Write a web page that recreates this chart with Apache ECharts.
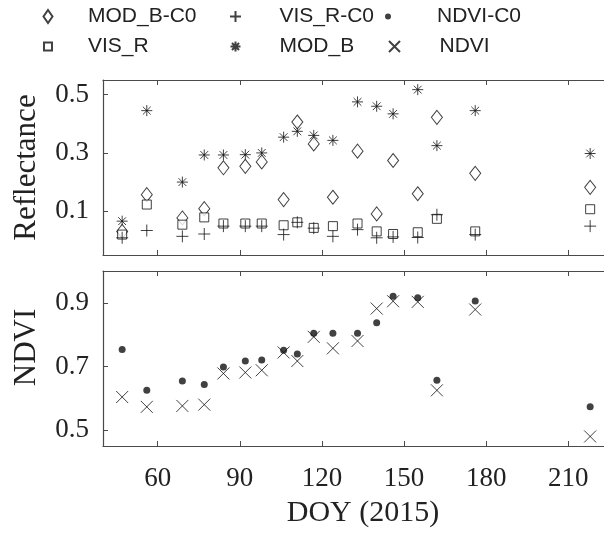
<!DOCTYPE html>
<html><head><meta charset="utf-8">
<script src="https://cdn.jsdelivr.net/npm/echarts@6/dist/echarts.min.js"></script>
<style>html,body{margin:0;padding:0;background:#fff;overflow:hidden;width:604px;height:533px}#c{width:640px;height:533px}</style>
</head><body><div id="c"></div>
<script>
const doy = [47, 56, 69, 77, 84, 92, 98, 106, 111, 117, 124, 133, 140, 146, 155, 162, 176, 218];
const modBC0 = [0.031, 0.157, 0.077, 0.109, 0.249, 0.254, 0.269, 0.140, 0.406, 0.331, 0.148, 0.306, 0.091, 0.274, 0.160, 0.422, 0.230, 0.182];
const visRC0 = [0.009, 0.034, 0.014, 0.022, 0.049, 0.049, 0.049, 0.020, 0.062, 0.042, 0.014, 0.037, 0.009, 0.012, 0.010, 0.088, 0.020, 0.049];
const visR = [0.020, 0.123, 0.054, 0.079, 0.058, 0.058, 0.058, 0.052, 0.062, 0.043, 0.049, 0.058, 0.031, 0.022, 0.028, 0.074, 0.031, 0.107];
const modB = [0.066, 0.445, 0.200, 0.293, 0.293, 0.294, 0.300, 0.354, 0.374, 0.360, 0.343, 0.475, 0.460, 0.434, 0.517, 0.325, 0.445, 0.298];
const ndviC0 = [0.753, 0.625, 0.654, 0.643, 0.698, 0.717, 0.720, 0.751, 0.739, 0.804, 0.804, 0.804, 0.837, 0.921, 0.916, 0.657, 0.906, 0.573];
const ndvi = [0.604, 0.573, 0.576, 0.580, 0.678, 0.681, 0.688, 0.744, 0.717, 0.793, 0.757, 0.780, 0.882, 0.905, 0.903, 0.625, 0.879, 0.480];
const xTicks = [60, 90, 120, 150, 180, 210];
const reflTicks = [0.1, 0.3, 0.5];
const ndviTicks = [0.5, 0.7, 0.9];

const pair = (ys) => doy.map((d, i) => [d, ys[i]]);
const INK = '#111';
const AXC = '#4a4a4a';
const SERIF = 'Liberation Serif';
const SANS = 'Liberation Sans';
const PLUS = 'path://M0,6H12M6,0V12';
const CROSS = 'path://M0,0L12,12M12,0L0,12';
const STAR = 'path://M0,6H12M6,0V12M1.76,1.76L10.24,10.24M10.24,1.76L1.76,10.24';
const hollow = {color: '#fff', borderColor: INK, borderWidth: 1};
const lineSym = {color: 'none', borderColor: INK, borderWidth: 1};

function xAx(grid, pos, labels) {
  return {
    type: 'value', gridIndex: grid, position: pos, min: 40, max: 230,
    axisLine: {show: true, onZero: false, lineStyle: {color: AXC, width: 1.2}},
    axisTick: {show: true, inside: true, length: 5, customValues: xTicks, lineStyle: {color: AXC}},
    axisLabel: labels ? {show: true, customValues: xTicks, margin: 19, fontFamily: SERIF, fontSize: 27, color: '#222'} : {show: false},
    splitLine: {show: false},
    name: labels ? 'DOY (2015)' : '', nameLocation: 'middle', nameGap: 52,
    nameTextStyle: {fontFamily: SERIF, fontSize: 30, color: '#222'}
  };
}
function yAx(grid, min, max, ticks, name, pad) {
  return {
    type: 'value', gridIndex: grid, min: min, max: max,
    axisLine: {show: true, onZero: false, lineStyle: {color: AXC, width: 1.2}},
    axisTick: {show: true, inside: true, length: 5, customValues: ticks, lineStyle: {color: AXC}},
    axisLabel: {show: true, customValues: ticks, margin: 14, fontFamily: SERIF, fontSize: 27, color: '#222',
      formatter: v => Number(v).toFixed(1)},
    splitLine: {show: false},
    name: name, nameLocation: 'middle', nameGap: 61,
    nameTextStyle: {fontFamily: SERIF, fontSize: 31, color: '#222', padding: pad}
  };
}
function leg(name, left, top, w, h, padL) {
  return {data: [name], left: left, top: top, itemWidth: w, itemHeight: h, padding: 0,
    selectedMode: false, symbolKeepAspect: true,
    textStyle: {fontFamily: SANS, fontSize: 21, color: '#222', padding: [0, 0, 0, padL]}};
}

const option = {
  backgroundColor: '#fff',
  animation: false,
  grid: [
    {left: 103, top: 80, width: 520, height: 175},
    {left: 103, top: 271, width: 520, height: 175}
  ],
  xAxis: [xAx(0, 'bottom', false), xAx(0, 'top', false), xAx(1, 'bottom', true), xAx(1, 'top', false)],
  yAxis: [yAx(0, -0.05, 0.55, reflTicks, 'Reflectance', [0, 0, 0, 0]), yAx(1, 0.45, 1.0, ndviTicks, 'NDVI', [0, 0, 0, 22])],
  legend: [
    leg('MOD_B-C0', 42.5, 6, 9, 13, 30.5),
    leg('VIS_R-C0', 227.5, 6, 11, 11, 33.5),
    leg('NDVI-C0', 385, 6, 6, 6, 41),
    leg('VIS_R', 43, 36, 8, 8, 31),
    leg('MOD_B', 228, 36, 10, 10, 34),
    leg('NDVI', 386.5, 36, 11, 11, 34.5)
  ],
  series: [
    {name: 'MOD_B', type: 'scatter', xAxisIndex: 0, yAxisIndex: 0, symbol: STAR, symbolSize: 11, itemStyle: lineSym, data: pair(modB)},
    {name: 'MOD_B-C0', type: 'scatter', xAxisIndex: 0, yAxisIndex: 0, symbol: 'diamond', symbolSize: [11, 14], itemStyle: hollow, data: pair(modBC0)},
    {name: 'VIS_R', type: 'scatter', xAxisIndex: 0, yAxisIndex: 0, symbol: 'rect', symbolSize: 9, itemStyle: hollow, data: pair(visR)},
    {name: 'VIS_R-C0', type: 'scatter', xAxisIndex: 0, yAxisIndex: 0, symbol: PLUS, symbolSize: 12, itemStyle: lineSym, data: pair(visRC0)},
    {name: 'NDVI', type: 'scatter', xAxisIndex: 2, yAxisIndex: 1, symbol: CROSS, symbolSize: 12, itemStyle: lineSym, data: pair(ndvi)},
    {name: 'NDVI-C0', type: 'scatter', xAxisIndex: 2, yAxisIndex: 1, symbol: 'circle', symbolSize: 7, itemStyle: {color: INK}, data: pair(ndviC0)}
  ]
};
const chart = echarts.init(document.getElementById('c'), null, {renderer: 'canvas'});
chart.setOption(option);
</script></body></html>
